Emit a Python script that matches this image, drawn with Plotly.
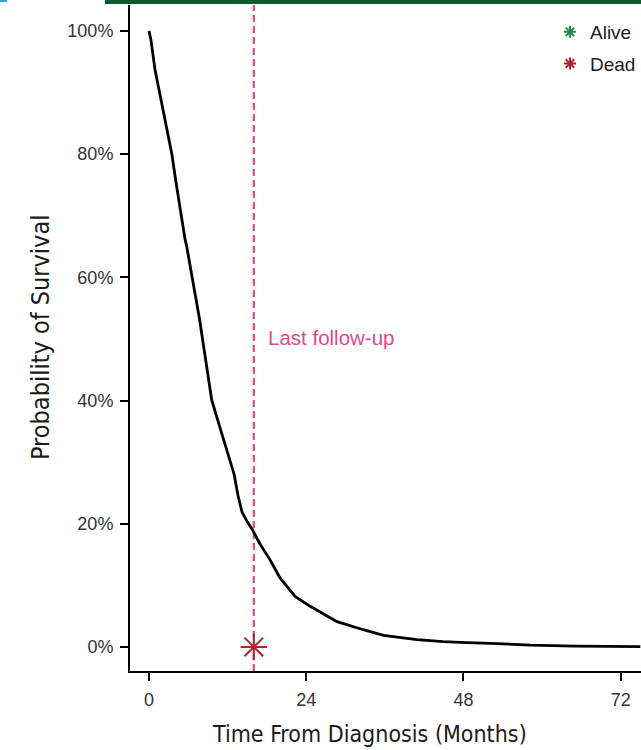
import plotly.graph_objects as go

# Kaplan-Meier overall survival estimate (months, survival fraction)
months = [0, 0.3, 0.92, 1.94, 2.7, 3.47, 4.23, 4.99, 5.5, 5.76, 6.26, 7.0,
          7.7, 8.3, 8.9, 9.57, 10.33, 11.1, 11.86, 12.6, 13.0, 13.6, 14.2,
          15.0, 15.7, 16.9, 18.5, 20.0, 22.3, 24.6, 26.5, 28.7, 32.7, 35.8,
          40.9, 44.9, 48.5, 52.1, 58.2, 65.0, 75.0]
survival = [1.000, 0.985, 0.937, 0.883, 0.839, 0.801, 0.747, 0.693, 0.662,
            0.650, 0.617, 0.575, 0.533, 0.490, 0.445, 0.401, 0.374, 0.347,
            0.320, 0.293, 0.280, 0.245, 0.219, 0.203, 0.192, 0.168, 0.141,
            0.112, 0.082, 0.066, 0.055, 0.041, 0.028, 0.019, 0.012, 0.0086,
            0.007, 0.006, 0.003, 0.0015, 0.0005]

# Censoring / event markers
alive_months = [None]
alive_surv = [None]
dead_months = [16.0]
dead_surv = [0.0]

last_followup = 16.0

x_ticks = [0, 24, 48, 72]
y_ticks = [0, 0.2, 0.4, 0.6, 0.8, 1.0]
y_tick_labels = ["0%", "20%", "40%", "60%", "80%", "100%"]

PINK = "#df4a87"
GREEN = "#1f8a4e"
RED = "#b4202f"
SANS = "Liberation Sans, Arial, sans-serif"
NARROW = "DejaVu Sans Condensed, Liberation Sans Narrow, Arial Narrow, sans-serif"

fig = go.Figure()

fig.add_trace(go.Scatter(
    x=months, y=survival, mode="lines",
    line=dict(color="black", width=2.8),
    showlegend=False, hoverinfo="skip",
))

# Event marker on the plot
fig.add_trace(go.Scatter(
    x=dead_months, y=dead_surv, mode="markers",
    marker=dict(symbol="asterisk", size=22, line=dict(color=RED, width=2)),
    showlegend=False, cliponaxis=False, hoverinfo="skip",
))

# Legend entries
fig.add_trace(go.Scatter(
    x=alive_months, y=alive_surv, mode="markers", name="Alive",
    marker=dict(symbol="asterisk", size=10, line=dict(color=GREEN, width=2)),
    legendgroup="a",
))
fig.add_trace(go.Scatter(
    x=[None], y=[None], mode="markers", name="Dead",
    marker=dict(symbol="asterisk", size=10, line=dict(color=RED, width=2)),
    legendgroup="d",
))

# Last follow-up reference line
fig.add_shape(type="line", xref="x", yref="paper",
              x0=last_followup, x1=last_followup, y0=0, y1=1,
              line=dict(color=PINK, width=2.2, dash="7px,4px"), layer="below")
fig.add_annotation(x=17.9, y=0.502, xref="x", yref="y", text="Last follow-up",
                   showarrow=False, xanchor="left", yanchor="middle",
                   font=dict(family=SANS, size=20.5, color=PINK))

# Header strips
fig.add_shape(type="rect", xref="paper", yref="paper",
              x0=(105 - 130) / 511, x1=1.0, y0=1 + 1 / 666, y1=1 + 5 / 666,
              line=dict(width=0), fillcolor="#0c5a2c")
fig.add_shape(type="rect", xref="paper", yref="paper",
              x0=-130 / 511, x1=-123 / 511, y0=1 + 3 / 666, y1=1 + 5 / 666,
              line=dict(width=0), fillcolor="#2aa7df")

# Axis titles
fig.add_annotation(text="Time From Diagnosis (Months)", xref="paper", yref="paper",
                   x=(369 - 130) / 511, y=(671 - 734) / 666, showarrow=False,
                   xanchor="center", yanchor="middle",
                   font=dict(family=NARROW, size=23, color="#1a1a1a"))
fig.add_annotation(text="Probability of Survival", xref="paper", yref="paper",
                   x=(40 - 130) / 511, y=(671 - 338) / 666, showarrow=False,
                   textangle=-90, xanchor="center", yanchor="middle",
                   font=dict(family=NARROW, size=25, color="#1a1a1a"))

tick_font = dict(family=SANS, size=18, color="#333333")

fig.update_layout(
    width=641, height=750,
    margin=dict(l=130, r=0, t=5, b=79),
    paper_bgcolor="white", plot_bgcolor="white",
    xaxis=dict(range=[-2.9, 75.1], tickvals=x_ticks, ticks="outside", ticklen=8,
               tickwidth=1.5, tickcolor="black", showline=True, linecolor="black",
               linewidth=2, showgrid=False, zeroline=False, tickfont=tick_font,
               ticklabelstandoff=3),
    yaxis=dict(range=[-0.039, 1.042], tickvals=y_ticks, ticktext=y_tick_labels,
               ticks="outside", ticklen=8, tickwidth=1.5, tickcolor="black",
               showline=True, linecolor="black", linewidth=2, showgrid=False,
               zeroline=False, tickfont=tick_font, ticklabelstandoff=3),
    legend=dict(x=1.0, xanchor="right", y=1 - 8 / 666, yanchor="top",
                bgcolor="rgba(0,0,0,0)", tracegroupgap=4,
                font=dict(family=SANS, size=19, color="#1a1a1a"),
                itemwidth=30),
    showlegend=True,
)

fig.write_html("out.html")
